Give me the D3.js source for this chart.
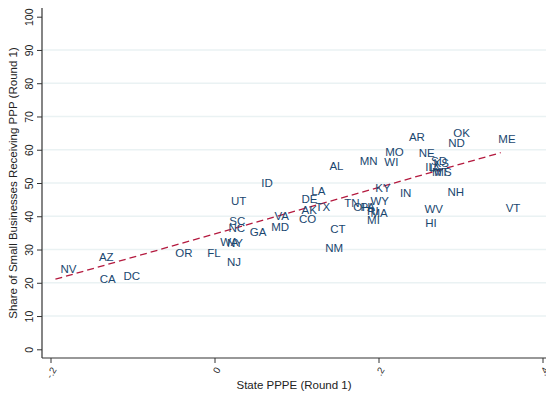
<!DOCTYPE html>
<html>
<head>
<meta charset="utf-8">
<script src="https://cdn.jsdelivr.net/npm/d3@7"></script>
<style>
  body { margin: 0; background: #fff; }
  text { font-family: "Liberation Sans", Arial, Helvetica, sans-serif; }
</style>
</head>
<body>
<div id="chart"></div>
<script>
// state labels with PPPE (x) and PPP share (y)
const states = ['NV','AZ','CA','DC','OR','FL','WA','NY','NJ','SC','NC','UT','GA','MD','VA','ID','CO','AK','DE','LA','TX','AL','MN','CT','NM','TN','OH','PA','WY','KY','RI','MA','MI','MO','WI','AR','OK','ND','ME','NE','SD','KS','IL','IA','MT','MS','IN','NH','WV','HI','VT'];
const pppe = [-0.194,-0.147,-0.146,-0.117,-0.054,-0.015,0.001,0.009,0.009,0.012,0.011,0.014,0.037,0.063,0.067,0.051,0.097,0.100,0.100,0.112,0.117,0.134,0.171,0.135,0.129,0.152,0.163,0.172,0.184,0.190,0.180,0.184,0.180,0.202,0.201,0.231,0.285,0.279,0.340,0.243,0.258,0.261,0.251,0.256,0.259,0.262,0.220,0.278,0.250,0.251,0.349];
const share = [24.1,27.8,21.1,22.0,29.0,29.0,32.3,32.0,26.2,38.6,36.5,44.6,35.3,36.8,40.1,50.0,39.2,41.9,45.2,47.6,42.8,55.1,56.6,36.2,30.5,44.0,42.8,42.8,44.6,48.5,41.6,41.0,38.9,59.3,56.3,63.9,65.1,62.1,63.3,59.1,56.6,56.0,54.8,54.5,53.3,53.3,47.0,47.3,42.2,38.0,42.5];

const xTicks = [-0.2, 0, 0.2, 0.4];
const xTickLabels = ['-.2', '0', '.2', '.4'];
const yTicks = [0, 10, 20, 30, 40, 50, 60, 70, 80, 90, 100];
const gridTicks = [10, 20, 30, 40, 50, 60, 70, 80, 90];

// linear fit
const fitIntercept = 34.66;
const fitSlope = 70.06;

const W = 546, H = 398;
const plot = { left: 42, right: 546, top: 8, bottom: 358 };

const svg = d3.select('#chart').append('svg')
  .attr('width', W)
  .attr('height', H);

const x = d3.scaleLinear().domain([-0.2, 0.4]).range([50.5, 542.5]);
const y = d3.scaleLinear().domain([0, 100]).range([349.3, 16.7]);

// grid
svg.append('g')
  .selectAll('line')
  .data(gridTicks)
  .enter()
  .append('line')
    .attr('x1', plot.left)
    .attr('x2', plot.right)
    .attr('y1', d => y(d))
    .attr('y2', d => y(d))
    .attr('stroke', '#eaf2f3')
    .attr('stroke-width', 1.5);

// Y axis
const yAxis = svg.append('g')
  .attr('transform', `translate(${plot.left},0)`)
  .call(d3.axisLeft(y).tickValues(yTicks).tickSize(5).tickFormat(d3.format('d')));
yAxis.select('.domain').remove();
yAxis.append('line')
  .attr('x1', 0).attr('x2', 0)
  .attr('y1', plot.top).attr('y2', plot.bottom)
  .attr('stroke', '#333').attr('stroke-width', 1.2);
yAxis.selectAll('.tick line').attr('stroke', '#333');
yAxis.selectAll('.tick text')
  .attr('x', null).attr('dy', null)
  .attr('transform', 'translate(-9,0) rotate(-90)')
  .attr('text-anchor', 'middle')
  .attr('fill', '#222')
  .style('font-size', '10.5px');

// X axis
const xAxis = svg.append('g')
  .attr('transform', `translate(0,${plot.bottom})`)
  .call(d3.axisBottom(x).tickValues(xTicks).tickSize(5).tickFormat((d, i) => xTickLabels[i]));
xAxis.select('.domain').remove();
xAxis.append('line')
  .attr('x1', plot.left).attr('x2', plot.right)
  .attr('y1', 0).attr('y2', 0)
  .attr('stroke', '#333').attr('stroke-width', 1.2);
xAxis.selectAll('.tick line').attr('stroke', '#333');
xAxis.selectAll('.tick text')
  .attr('y', null).attr('dy', null)
  .attr('transform', 'translate(3,10) rotate(-60)')
  .attr('text-anchor', 'end')
  .attr('dy', '0.35em')
  .attr('fill', '#222')
  .style('font-size', '9.5px');

// axis titles
svg.append('text')
  .attr('transform', `translate(17,${(plot.top + plot.bottom) / 2}) rotate(-90)`)
  .attr('text-anchor', 'middle')
  .attr('fill', '#222')
  .style('font-size', '11.5px')
  .text('Share of Small Businesses Receiving PPP (Round 1)');

svg.append('text')
  .attr('x', (plot.left + plot.right) / 2)
  .attr('y', 389)
  .attr('text-anchor', 'middle')
  .attr('fill', '#222')
  .style('font-size', '11.5px')
  .text('State PPPE (Round 1)');

// fitted line over the data range
const xExt = d3.extent(pppe);
svg.append('line')
  .attr('x1', x(xExt[0]))
  .attr('y1', y(fitIntercept + fitSlope * xExt[0]))
  .attr('x2', x(xExt[1]))
  .attr('y2', y(fitIntercept + fitSlope * xExt[1]))
  .attr('stroke', '#b41a3f')
  .attr('stroke-width', 1.3)
  .attr('stroke-dasharray', '7,4');

// state labels, placed to the right of the (invisible) points
svg.append('g')
  .selectAll('text')
  .data(states)
  .enter()
  .append('text')
    .attr('x', (d, i) => x(pppe[i]) + 5)
    .attr('y', (d, i) => y(share[i]))
    .attr('dy', '0.36em')
    .attr('fill', '#1a476f')
    .style('font-size', '11.5px')
    .text(d => d);
</script>
</body>
</html>
